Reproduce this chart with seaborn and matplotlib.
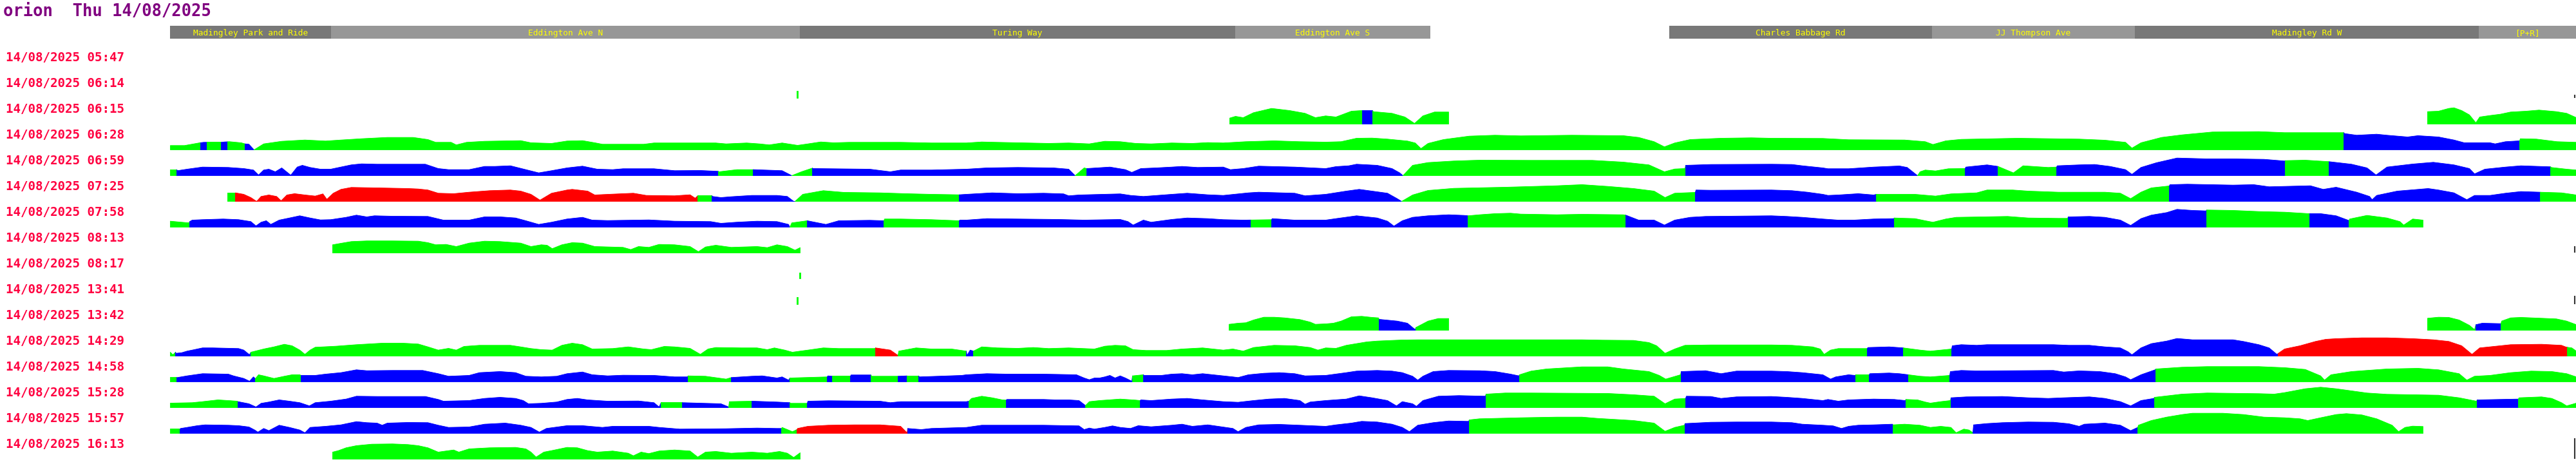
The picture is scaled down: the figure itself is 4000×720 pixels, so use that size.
import numpy as np
import matplotlib
matplotlib.use("Agg")
import matplotlib.pyplot as plt
import seaborn as sns

# ---------------- data ----------------
TITLE = "orion  Thu 14/08/2025"
DATE = "14/08/2025"
times = ["05:47", "06:14", "06:15", "06:28", "06:59", "07:25", "07:58", "08:13",
         "08:17", "13:41", "13:42", "14:29", "14:58", "15:28", "15:57", "16:13"]

stop_names = ["Madingley Park and Ride", "Eddington Ave N", "Turing Way", "Eddington Ave S",
              "Charles Babbage Rd", "JJ Thompson Ave", "Madingley Rd W", "[P+R]"]
stop_start = [0, 250, 978, 1654, 2328, 2736, 3051, 3585]
stop_end = [250, 978, 1654, 1957, 2736, 3051, 3585, 3736]

# profiles: (distance along route, value) ; colours: (from, to, status)
prof_0547 = []
col_0547 = []

prof_0614 = [(973, 11), (975, 11)]
col_0614 = [(973, 975, "G")]

prof_0615 = [(1645, 9.3), (1654, 12), (1666, 10), (1682, 17.7), (1710, 24.3), (1738, 21), (1762, 16.7),
             (1778, 10), (1794, 12.7), (1810, 11), (1834, 20), (1850, 21), (1851, 20.7), (1867, 20.7),
             (1868, 19.3), (1897, 16.7), (1917, 11), (1932, 1), (1945, 12.7), (1963, 18.7), (1985, 18.7),
             (3505, 19.3), (3522, 20), (3538, 24.3), (3546, 25.3), (3558, 21), (3570, 14.3), (3580, 2),
             (3586, 11), (3602, 13.3), (3618, 15.3), (3634, 18.7), (3658, 20), (3678, 21.7), (3705, 19.3),
             (3721, 16.7), (3736, 10)]
col_0615 = [(1645, 1851, "G"), (1851, 1867, "B"), (1867, 1985, "G"), (3505, 3736, "G")]

prof_0628 = [(0, 6.7), (22, 6.7), (46, 11), (52, 11.7), (79, 11.7), (84, 12.3), (92, 12.7), (110, 11),
             (116, 9.3), (122, 8.7), (130, 0), (145, 9.3), (173, 13.3), (209, 15.3), (241, 13.7),
             (265, 15.3), (297, 17.3), (337, 19.3), (377, 19.3), (400, 16), (412, 11.7), (436, 11.7),
             (444, 7.7), (460, 11.7), (488, 13.3), (544, 14.3), (560, 11), (592, 10), (616, 13.7),
             (640, 14.3), (659, 11), (671, 8.7), (735, 8.7), (751, 10.7), (847, 10.7), (863, 9.3),
             (895, 10.7), (915, 9.3), (930, 7.7), (950, 10.7), (974, 7), (990, 9.3), (1010, 12.3),
             (1030, 11), (1054, 11.7), (1134, 11.7), (1182, 10.7), (1236, 10.7), (1260, 12.3),
             (1284, 11.7), (1332, 10.7), (1364, 10), (1395, 10.7), (1427, 9.3), (1451, 13.3),
             (1475, 12.7), (1499, 10), (1523, 9.3), (1555, 10.7), (1587, 10), (1611, 11.3), (1635, 10.7),
             (1670, 12.7), (1714, 14), (1754, 12.7), (1794, 12), (1818, 12.7), (1842, 18), (1866, 18.3),
             (1890, 16.7), (1921, 13.7), (1933, 10.7), (1942, 2), (1953, 10), (1977, 16), (2017, 21.3),
             (2057, 22.7), (2097, 21.7), (2176, 22.7), (2256, 22), (2280, 19.3), (2304, 12.7),
             (2320, 4.7), (2336, 10.7), (2360, 16), (2408, 18), (2455, 18.7), (2486, 18), (2566, 17.7),
             (2606, 15.7), (2693, 15.3), (2725, 12.7), (2737, 8.3), (2757, 14), (2781, 16.3), (2869, 18),
             (2964, 16.7), (3004, 15), (3036, 11.7), (3046, 2.7), (3060, 11), (3092, 19.3), (3124, 23.3),
             (3171, 27.7), (3243, 28.3), (3283, 26.7), (3375, 26.7), (3376, 25.3), (3395, 22.7),
             (3426, 24.3), (3442, 22.7), (3474, 20), (3490, 22), (3522, 20), (3546, 15.3), (3562, 11),
             (3602, 11), (3610, 9.3), (3626, 12.7), (3648, 14), (3649, 17.3), (3674, 16.7), (3706, 12.7),
             (3736, 11.7)]
col_0628 = [(0, 47, "G"), (47, 57, "B"), (57, 79, "G"), (79, 89, "B"), (89, 116, "G"), (116, 130, "B"),
            (130, 3375, "G"), (3375, 3648, "B"), (3648, 3736, "G")]

prof_0659 = [(0, 9.3), (10, 9.3), (11, 7.7), (26, 10), (50, 13.3), (90, 12.7), (114, 11), (129, 8.7),
             (137, 1), (145, 8.7), (153, 10), (163, 6), (173, 12), (187, 0.7), (197, 13.3), (205, 16),
             (217, 12.7), (233, 10), (249, 10), (281, 16.7), (297, 18.3), (321, 17.7), (361, 17.7),
             (396, 17.7), (416, 11), (432, 9.3), (464, 9.3), (488, 14.3), (504, 14.3), (528, 15.3),
             (552, 9.3), (572, 4.3), (592, 7.7), (616, 12), (640, 14.7), (663, 10), (687, 9.3),
             (703, 10.7), (751, 10.7), (783, 7.7), (823, 8), (851, 6.7), (852, 6), (880, 9.3), (905, 9.3),
             (906, 9.3), (950, 7.7), (965, 0), (980, 6), (997, 11.7), (998, 11), (1086, 10), (1118, 6),
             (1134, 8.7), (1182, 8.7), (1236, 10), (1268, 12), (1316, 12.7), (1371, 12), (1395, 10),
             (1405, 0), (1419, 12), (1423, 11), (1459, 13.3), (1483, 9.3), (1493, 5), (1507, 11),
             (1531, 12), (1555, 13.3), (1571, 14.3), (1595, 12.7), (1635, 13.3), (1646, 9.3), (1666, 11),
             (1690, 14.7), (1746, 13.3), (1794, 11), (1810, 14), (1830, 15.3), (1842, 17.7), (1874, 16),
             (1897, 11), (1909, 4.3), (1914, 0), (1929, 16), (1953, 20.3), (1993, 22.7), (2033, 24),
             (2113, 23.7), (2208, 23.7), (2256, 21), (2296, 16.7), (2320, 6), (2336, 10.3), (2352, 11),
             (2353, 16), (2392, 17.3), (2486, 17.7), (2518, 17.3), (2534, 15.3), (2566, 12), (2574, 10.7),
             (2606, 10.7), (2645, 13.3), (2685, 15), (2697, 12.7), (2713, 0), (2717, 6), (2725, 8.7),
             (2741, 7.3), (2761, 10.7), (2787, 11), (2788, 13.3), (2821, 16.7), (2838, 14.3), (2862, 4.3),
             (2877, 15.3), (2892, 14.3), (2916, 12.7), (2929, 13.3), (2930, 15.3), (2964, 16.7),
             (2988, 17.3), (3012, 14.3), (3036, 9.3), (3046, 2), (3060, 12.7), (3084, 20), (3116, 27.3),
             (3163, 26), (3203, 26), (3251, 25.3), (3283, 22.7), (3284, 23.3), (3315, 24), (3352, 21.7),
             (3387, 17.7), (3411, 12), (3425, 1), (3442, 13.3), (3482, 18), (3514, 20.7), (3546, 16.7),
             (3570, 11), (3578, 2.7), (3594, 10), (3626, 13.3), (3650, 15.3), (3696, 13.7), (3697, 12.7),
             (3721, 10), (3736, 8.7)]
col_0659 = [(0, 10, "G"), (10, 851, "B"), (851, 905, "G"), (905, 965, "B"), (965, 997, "G"),
            (997, 1405, "B"), (1405, 1423, "G"), (1423, 1914, "B"), (1914, 2353, "G"), (2353, 2713, "B"),
            (2713, 2787, "G"), (2787, 2838, "B"), (2838, 2929, "G"), (2929, 3284, "B"), (3284, 3352, "G"),
            (3352, 3696, "B"), (3696, 3736, "G")]

prof_0725 = [(89, 13.3), (101, 13.3), (114, 11), (125, 6), (134, 0), (141, 7.7), (153, 10), (165, 7.7),
             (172, 1), (181, 10), (193, 12), (209, 10), (225, 8.3), (237, 11.7), (243, 3.3), (253, 12.7),
             (265, 18.7), (281, 21.7), (321, 21), (369, 20), (385, 19.3), (400, 17.7), (416, 12.7),
             (440, 12), (464, 14.3), (496, 16.7), (528, 17.7), (544, 16), (560, 11), (574, 2), (592, 12.7),
             (616, 17.7), (624, 18.7), (648, 16), (659, 10), (687, 11.3), (719, 12.7), (739, 9.3),
             (783, 8.7), (807, 10.3), (815, 5), (819, 8.7), (841, 8.7), (842, 7.7), (855, 6), (871, 7.3),
             (903, 9.3), (942, 9.3), (958, 7.7), (968, 0), (970, 0), (982, 11), (1014, 16.7), (1046, 14),
             (1102, 13.3), (1142, 12), (1182, 11), (1225, 10.3), (1236, 11), (1276, 13.3), (1316, 12),
             (1356, 12.7), (1387, 11.7), (1395, 8.7), (1411, 10), (1475, 11.7), (1491, 9.3), (1511, 7.7),
             (1555, 11), (1579, 12.7), (1611, 10.3), (1635, 9.3), (1674, 13.3), (1690, 14.3), (1746, 12.7),
             (1762, 8.7), (1794, 11), (1826, 16), (1846, 18.7), (1866, 16), (1890, 12.7), (1905, 4.3),
             (1912, 0), (1929, 10), (1953, 17), (1993, 20.3), (2073, 22), (2153, 24.3), (2192, 26),
             (2232, 23.3), (2272, 20), (2304, 16), (2321, 6), (2336, 12.7), (2368, 14), (2369, 17.7),
             (2392, 17.3), (2486, 17.7), (2518, 16.7), (2542, 14.3), (2566, 11), (2574, 9.3), (2590, 10),
             (2621, 12), (2645, 10), (2649, 11), (2709, 11), (2741, 8.3), (2765, 11.7), (2805, 13.3),
             (2821, 17.7), (2861, 17.7), (2885, 16), (2932, 14.3), (3004, 14.3), (3028, 12.7), (3044, 4.3),
             (3060, 14.3), (3076, 21), (3104, 24), (3105, 26), (3132, 26.7), (3203, 25.3), (3235, 26),
             (3259, 22.7), (3323, 24.3), (3343, 18.7), (3363, 22), (3395, 14.3), (3415, 7.7), (3419, 2.7),
             (3426, 9.3), (3458, 16), (3506, 20), (3522, 17.7), (3546, 13.3), (3566, 2.7), (3578, 9.3),
             (3602, 9.3), (3626, 12.7), (3650, 15.3), (3680, 14.3), (3713, 13.3), (3736, 10)]
col_0725 = [(89, 101, "G"), (101, 819, "R"), (819, 841, "G"), (841, 970, "B"), (970, 1225, "G"),
            (1225, 1912, "B"), (1912, 2368, "G"), (2368, 2649, "B"), (2649, 3104, "G"), (3104, 3680, "B"),
            (3680, 3736, "G")]

prof_0758 = [(0, 9.3), (29, 6.7), (30, 8.7), (34, 11), (50, 11.7), (82, 12.7), (106, 11.7), (125, 8.7),
             (133, 2), (141, 7.7), (149, 10), (156, 4.3), (169, 11), (185, 14.3), (201, 17.7), (217, 14.3),
             (233, 11.3), (249, 11.7), (273, 15.3), (289, 18.7), (305, 16), (317, 17.7), (345, 17),
             (400, 16.7), (424, 11), (464, 11), (488, 16), (512, 16), (536, 14.3), (552, 10), (572, 4.3),
             (592, 7.7), (616, 12.7), (640, 15.3), (655, 11), (679, 10.3), (743, 11.3), (783, 9.3),
             (839, 8.7), (855, 6), (879, 7.7), (911, 9.3), (942, 8.7), (960, 4.3), (962, 0), (965, 6.7),
             (989, 10), (1018, 4.3), (1038, 10), (1086, 10.7), (1108, 10), (1109, 12.7), (1134, 12.7),
             (1182, 11.7), (1225, 10), (1226, 11), (1236, 11), (1268, 13.3), (1316, 12.7), (1379, 12),
             (1419, 11), (1475, 12), (1487, 8.7), (1495, 3.3), (1511, 11), (1523, 7.7), (1555, 12),
             (1579, 14.3), (1611, 13.3), (1635, 11.7), (1666, 11), (1710, 11.7), (1711, 13.3), (1746, 11),
             (1794, 11), (1810, 13.3), (1842, 17.7), (1874, 14.3), (1890, 9.3), (1900, 1.7), (1913, 10),
             (1929, 15.3), (1953, 17.7), (1985, 19.3), (2009, 18.3), (2015, 17.7), (2033, 19.3), (2057, 21),
             (2081, 21.7), (2097, 20.3), (2153, 19.3), (2192, 20), (2256, 19.3), (2260, 18.7), (2280, 11),
             (2304, 11), (2320, 3.3), (2336, 11), (2360, 15.3), (2384, 16.7), (2486, 17.7), (2510, 16.7),
             (2534, 15.3), (2566, 12.7), (2590, 11), (2614, 11), (2645, 12.7), (2676, 13.3), (2677, 14.3),
             (2709, 13.3), (2725, 10), (2737, 7.7), (2757, 12.7), (2773, 15.3), (2853, 16.7), (2885, 14.3),
             (2932, 13.7), (2946, 13.7), (2947, 16), (2980, 16.7), (3004, 15.3), (3028, 11), (3044, 2.7),
             (3060, 13.3), (3076, 18.7), (3100, 22.7), (3116, 27.7), (3140, 26), (3161, 25.3),
             (3162, 26.7), (3203, 26), (3243, 24.3), (3283, 23.3), (3321, 21), (3339, 21), (3363, 17.7),
             (3383, 10.3), (3384, 12.7), (3411, 18.3), (3442, 14.3), (3462, 8.7), (3468, 3.3), (3482, 12.7),
             (3498, 11)]
col_0758 = [(0, 30, "G"), (30, 962, "B"), (962, 989, "G"), (989, 1108, "B"), (1108, 1225, "G"),
            (1225, 1678, "B"), (1678, 1710, "G"), (1710, 2015, "B"), (2015, 2260, "G"), (2260, 2677, "B"),
            (2677, 2947, "G"), (2947, 3162, "B"), (3162, 3322, "G"), (3322, 3383, "B"), (3383, 3498, "G")]

prof_0813 = [(252, 12.7), (265, 15), (281, 17.7), (305, 18.7), (345, 18.7), (385, 18.3), (400, 16),
             (412, 12.7), (428, 13.3), (444, 10), (464, 15.3), (488, 18.3), (512, 17.7), (544, 15.3),
             (560, 10), (576, 12.7), (585, 12), (593, 6.7), (608, 12.7), (624, 16), (640, 15.3), (659, 10),
             (703, 8.7), (715, 5.3), (727, 10), (743, 8.7), (759, 13.3), (783, 12.7), (807, 10), (820, 2),
             (831, 9.3), (847, 12), (871, 8.7), (911, 10), (927, 8.3), (942, 12.7), (958, 10), (970, 4.3),
             (978, 8.3)]
col_0813 = [(252, 978, "G")]

prof_0817 = [(977, 9), (979, 9)]
col_0817 = [(977, 979, "G")]

prof_1341 = [(973, 11), (975, 11)]
col_1341 = [(973, 975, "G")]

prof_1342 = [(1644, 9.3), (1658, 11), (1670, 11.7), (1682, 16), (1698, 20.3), (1714, 20.3), (1730, 19.3),
             (1754, 16.7), (1770, 12.7), (1778, 9.3), (1794, 10), (1806, 11), (1818, 14.3), (1834, 21),
             (1850, 21.7), (1866, 20), (1876, 19.3), (1877, 17), (1905, 14.3), (1921, 11), (1933, 1),
             (1934, 4.3), (1953, 14.3), (1969, 18.3), (1985, 18.3),
             (3505, 18.7), (3522, 20.3), (3538, 20), (3554, 16), (3570, 7.7), (3578, 1), (3580, 8.7),
             (3590, 11), (3619, 10.3), (3620, 14.3), (3634, 19.3), (3650, 20), (3682, 18.7), (3705, 17.7),
             (3721, 14.3), (3736, 8.7)]
col_1342 = [(1644, 1877, "G"), (1877, 1934, "B"), (1934, 1985, "G"), (3505, 3580, "G"), (3580, 3619, "B"),
            (3619, 3736, "G")]

prof_1429 = [(0, 6), (4, 2), (8, 6), (9, 4.3), (18, 5.3), (26, 7.7), (34, 9.3), (50, 12.7), (66, 12.7),
             (106, 11.7), (114, 9.3), (123, 2), (125, 6), (145, 11), (161, 14.3), (177, 18.3), (189, 16),
             (201, 9.3), (209, 2.7), (217, 9.3), (225, 13.7), (257, 15.3), (289, 17.7), (329, 20),
             (361, 20), (385, 18.7), (400, 14.3), (416, 9.3), (432, 12), (444, 9.3), (456, 15), (480, 16.7),
             (528, 16.7), (544, 14.3), (560, 11.7), (576, 10), (593, 9.3), (608, 16.7), (624, 20),
             (640, 17.7), (655, 11), (687, 11.7), (711, 14.3), (735, 11), (747, 10), (767, 15), (783, 14.3),
             (807, 12), (823, 2.7), (835, 11), (847, 13.3), (887, 12.7), (911, 12.7), (927, 10),
             (938, 12.7), (954, 9.3), (966, 6), (978, 7.7), (990, 9.3), (1014, 12.7), (1038, 11.7),
             (1094, 11.7), (1095, 12.7), (1118, 9.3), (1130, 1), (1131, 7.7), (1158, 12.7), (1182, 11),
             (1213, 11), (1236, 7.7), (1237, 1), (1242, 9.3), (1247, 7.7), (1260, 14.3), (1284, 12.7),
             (1316, 12), (1340, 13.3), (1364, 11.7), (1395, 12.7), (1435, 11), (1451, 15.3), (1467, 16.7),
             (1483, 16), (1495, 10), (1515, 8.7), (1547, 8.7), (1571, 11), (1603, 12.7), (1619, 11),
             (1635, 9.3), (1650, 11), (1666, 7.7), (1682, 13.3), (1714, 16.7), (1746, 16), (1770, 13.3),
             (1782, 9.3), (1794, 12.7), (1810, 12), (1826, 16.7), (1858, 22), (1874, 23.3), (1913, 25),
             (1937, 25.3), (2192, 25.3), (2224, 24.7), (2272, 24.3), (2296, 21), (2308, 16), (2321, 4.3),
             (2336, 11), (2352, 16.7), (2392, 17.3), (2486, 17.3), (2518, 16.7), (2550, 14.3), (2562, 11),
             (2568, 2.7), (2578, 9.3), (2590, 11.7), (2635, 11.7), (2636, 13.3), (2669, 14.3),
             (2691, 12.7), (2717, 9.3), (2733, 7.7), (2749, 9.3), (2766, 11), (2767, 16), (2781, 17.7),
             (2805, 16.7), (2821, 17.7), (2924, 17.7), (2948, 16.7), (2980, 16.7), (3004, 14.3),
             (3028, 12.7), (3040, 6.7), (3046, 2), (3060, 12.7), (3076, 19.3), (3100, 23.3), (3116, 27.3),
             (3140, 25.3), (3203, 25.3), (3219, 22.7), (3243, 17.7), (3259, 12.7), (3271, 2.7), (3283, 11),
             (3307, 16), (3331, 22.7), (3347, 26), (3363, 27), (3403, 28.3), (3442, 28.3), (3482, 27),
             (3514, 25.3), (3538, 22.7), (3558, 16), (3574, 2.7), (3586, 12.7), (3618, 16), (3634, 17.7),
             (3682, 18.3), (3713, 16.7), (3720, 14), (3729, 12.7), (3736, 7.7)]
col_1429 = [(0, 8, "G"), (8, 125, "B"), (125, 1095, "G"), (1095, 1130, "R"), (1130, 1236, "G"),
            (1236, 1247, "B"), (1247, 2635, "G"), (2635, 2691, "B"), (2691, 2766, "G"), (2766, 3273, "B"),
            (3273, 3722, "R"), (3722, 3736, "G")]

prof_1458 = [(0, 6.7), (10, 6.7), (11, 6.7), (26, 9.3), (50, 12.7), (90, 12), (98, 9.3), (114, 5.3),
             (123, 1), (129, 7.7), (132, 5), (137, 11), (145, 9.3), (161, 5.3), (177, 8.7), (189, 11),
             (201, 11), (203, 10), (225, 10), (241, 12), (265, 14.3), (289, 18.7), (305, 17.3), (345, 17.7),
             (392, 17.7), (416, 12.7), (432, 8.7), (464, 10), (480, 14.3), (512, 16), (536, 14.3),
             (552, 8.7), (576, 7.7), (600, 8.7), (616, 12.7), (640, 15.3), (655, 11), (679, 9.3),
             (703, 10.3), (751, 10), (783, 7.7), (803, 7.7), (804, 9.3), (831, 8.7), (863, 4.3), (871, 6.7),
             (903, 8.7), (919, 9.3), (942, 6), (950, 7.7), (960, 2.7), (962, 6), (1020, 7.7), (1021, 9.3),
             (1028, 8.7), (1056, 8.7), (1057, 10.7), (1088, 10.7), (1089, 8.7), (1130, 8.7), (1144, 9.3),
             (1162, 9.3), (1163, 7.7), (1229, 10), (1236, 11), (1268, 12.7), (1300, 12), (1356, 12),
             (1407, 11), (1419, 6), (1427, 3.3), (1435, 6), (1443, 6), (1451, 7.7), (1459, 10), (1467, 6),
             (1475, 9.3), (1483, 6), (1493, 1), (1494, 9.3), (1511, 11), (1512, 10), (1539, 10), (1555, 12),
             (1571, 12.7), (1587, 11), (1603, 12.7), (1635, 9.3), (1650, 7.7), (1658, 6.7), (1674, 11),
             (1698, 13.3), (1722, 14.3), (1746, 12.7), (1762, 9.3), (1794, 10), (1826, 14.3), (1842, 16.7),
             (1874, 17.7), (1897, 16.7), (1913, 14.3), (1929, 8.7), (1937, 2.7), (1945, 8.7), (1961, 16),
             (1985, 17.7), (2033, 17.3), (2057, 16), (2081, 12), (2094, 9.3), (2095, 11), (2113, 16.7),
             (2137, 20), (2192, 23.3), (2232, 23.3), (2256, 20), (2296, 16), (2312, 10), (2322, 4.3),
             (2345, 11), (2346, 16), (2384, 17.3), (2408, 12.7), (2432, 16.7), (2486, 16.7), (2510, 16),
             (2534, 14.3), (2566, 11), (2578, 4.3), (2586, 7.7), (2606, 11), (2616, 10), (2617, 11),
             (2638, 11), (2639, 12.7), (2669, 13.7), (2685, 12.7), (2699, 11), (2717, 8.7), (2733, 7.7),
             (2763, 10), (2764, 16), (2781, 17.7), (2805, 17), (2924, 17.7), (2940, 15.3), (2964, 17),
             (2996, 16), (3020, 12.7), (3036, 7.7), (3044, 3.3), (3060, 11), (3082, 18.7), (3083, 20),
             (3124, 22.7), (3163, 23.7), (3243, 23.7), (3283, 22), (3315, 19.3), (3339, 9.3), (3345, 2.7),
             (3355, 11), (3387, 16), (3442, 20), (3490, 21), (3522, 18.7), (3554, 12.7), (3566, 2.7),
             (3578, 8.7), (3602, 10), (3634, 14.3), (3666, 16.7), (3698, 16), (3721, 12.7), (3736, 7.7)]
col_1458 = [(0, 10, "G"), (10, 132, "B"), (132, 203, "G"), (203, 804, "B"), (804, 871, "G"),
            (871, 962, "B"), (962, 1020, "G"), (1020, 1028, "B"), (1028, 1056, "G"), (1056, 1088, "B"),
            (1088, 1130, "G"), (1130, 1144, "B"), (1144, 1162, "G"), (1162, 1494, "B"), (1494, 1511, "G"),
            (1511, 2095, "B"), (2095, 2346, "G"), (2346, 2617, "B"), (2617, 2638, "G"), (2638, 2699, "B"),
            (2699, 2763, "G"), (2763, 3083, "B"), (3083, 3736, "G")]

prof_1528 = [(0, 7), (34, 7.7), (50, 9.3), (74, 12), (90, 11), (104, 10), (105, 9.3), (122, 6), (133, 1),
             (141, 6.7), (153, 8.7), (169, 12), (185, 10), (201, 7.7), (216, 2.7), (225, 7.7), (249, 10),
             (273, 13.3), (289, 17.7), (321, 17.3), (396, 17.3), (416, 12.7), (424, 10), (464, 11),
             (488, 14.3), (512, 16), (536, 14.3), (548, 11), (556, 6), (576, 6.7), (600, 8.7), (616, 12.7),
             (632, 14.3), (648, 12), (679, 10), (727, 10.3), (751, 7.7), (759, 1), (762, 7.7), (783, 7.7),
             (795, 7.7), (796, 7.7), (855, 6), (867, 1), (868, 9.3), (903, 10), (904, 10), (942, 8.7),
             (962, 7.7), (963, 6.7), (989, 6.7), (990, 10), (1022, 10.7), (1102, 10), (1118, 7.7),
             (1134, 9.3), (1236, 9.3), (1240, 10), (1244, 14.3), (1260, 17.7), (1276, 15.3), (1292, 12),
             (1298, 11.7), (1299, 12.7), (1356, 12.7), (1375, 12), (1395, 12), (1411, 11), (1421, 3.3),
             (1427, 9.3), (1443, 11), (1475, 13.3), (1499, 11.7), (1506, 11), (1507, 12), (1523, 11),
             (1555, 13.3), (1579, 14.3), (1603, 12), (1635, 9.3), (1658, 8.3), (1682, 11), (1706, 13.3),
             (1730, 14.3), (1754, 11), (1762, 5.3), (1770, 8.7), (1794, 11), (1826, 13.3), (1846, 18.3),
             (1866, 15.3), (1890, 11), (1904, 2.7), (1913, 9.3), (1929, 6), (1935, 2), (1945, 11),
             (1969, 17.7), (2001, 18.7), (2042, 17.7), (2043, 21), (2073, 22.7), (2113, 22.7), (2232, 22),
             (2272, 20), (2304, 17.7), (2321, 6), (2336, 13.3), (2353, 14.3), (2354, 17.7), (2392, 17.3),
             (2408, 14.3), (2432, 16.7), (2486, 17.3), (2510, 16), (2534, 14.3), (2566, 11), (2574, 12.7),
             (2590, 10), (2606, 12), (2645, 13.3), (2677, 12.7), (2694, 11), (2695, 12.7), (2713, 12),
             (2725, 8.7), (2733, 7), (2749, 9.3), (2764, 11), (2765, 15.3), (2789, 16.7), (2845, 17.3),
             (2885, 15.3), (2916, 14.3), (2940, 15.3), (2980, 16.7), (3004, 14.3), (3028, 9.3), (3044, 2.7),
             (3060, 11), (3080, 14.3), (3081, 16), (3124, 21), (3163, 22.7), (3243, 21.7), (3267, 21),
             (3283, 23.3), (3315, 29.3), (3339, 31.7), (3363, 29.3), (3411, 22.7), (3442, 20.7),
             (3522, 19.3), (3554, 15.3), (3581, 10), (3582, 12), (3646, 13.3), (3647, 15.3), (3682, 16.7),
             (3698, 14.3), (3713, 7.7), (3721, 2.7), (3736, 7)]
col_1528 = [(0, 105, "G"), (105, 762, "B"), (762, 795, "G"), (795, 867, "B"), (867, 903, "G"),
            (903, 962, "B"), (962, 989, "G"), (989, 1240, "B"), (1240, 1298, "G"), (1298, 1421, "B"),
            (1421, 1506, "G"), (1506, 2043, "B"), (2043, 2353, "G"), (2353, 2695, "B"), (2695, 2765, "G"),
            (2765, 3081, "B"), (3081, 3582, "G"), (3582, 3646, "B"), (3646, 3736, "G")]

prof_1557 = [(0, 6.7), (15, 6.7), (16, 7.7), (26, 9.3), (42, 12), (54, 13.3), (90, 12.7), (106, 12),
             (122, 10), (131, 5.3), (136, 2), (145, 7.7), (153, 4.3), (169, 12.7), (185, 9.3), (201, 5.3),
             (209, 1), (217, 9.3), (241, 11), (265, 13.3), (289, 18.3), (305, 16.7), (321, 16), (329, 12.7),
             (337, 16), (369, 17), (400, 16.7), (416, 12.7), (432, 9.3), (464, 10), (488, 14.3), (520, 16),
             (544, 12.7), (560, 9.3), (573, 2), (584, 7.7), (616, 12), (640, 12), (671, 9.3), (687, 11),
             (743, 11), (759, 9.3), (791, 6.7), (863, 7.3), (911, 8.3), (942, 7.7), (949, 7.7), (950, 9.3),
             (966, 2.7), (973, 6), (974, 7.7), (990, 11), (1022, 12.7), (1062, 13.3), (1102, 13.3),
             (1134, 11), (1144, 1), (1145, 7.7), (1166, 6), (1182, 7.7), (1236, 9.3), (1260, 12.7),
             (1356, 12.7), (1411, 11.7), (1419, 6), (1427, 8.3), (1435, 6.7), (1451, 9.3), (1463, 11.7),
             (1475, 9.3), (1491, 7.7), (1503, 12), (1523, 10.3), (1555, 12.7), (1571, 14.3), (1587, 11),
             (1611, 13.3), (1627, 11), (1650, 7.7), (1658, 2.7), (1670, 9.3), (1690, 13.3), (1722, 14),
             (1754, 12.7), (1794, 11), (1810, 13.3), (1834, 16), (1850, 18.7), (1874, 17.7), (1897, 14.3),
             (1913, 9.3), (1924, 2.7), (1937, 12.7), (1961, 16.7), (1985, 19.3), (2016, 18.7), (2017, 21),
             (2033, 22.7), (2057, 23.3), (2097, 24.3), (2153, 25.3), (2192, 25.3), (2216, 23.3), (2272, 20),
             (2304, 16), (2321, 3.3), (2336, 9.3), (2351, 12.7), (2352, 15.3), (2392, 17.3), (2432, 17.7),
             (2486, 17.7), (2518, 16.7), (2534, 14.3), (2566, 12.7), (2582, 11.7), (2595, 7.7), (2606, 11),
             (2621, 12.7), (2645, 13.3), (2674, 14.3), (2675, 13.3), (2693, 14.3), (2717, 12.7),
             (2733, 9.3), (2749, 11), (2765, 9.3), (2773, 1), (2785, 6.7), (2793, 5.3), (2799, 1),
             (2800, 13.3), (2821, 15.3), (2845, 16.7), (2885, 17.7), (2924, 17.3), (2948, 15), (2964, 11),
             (2972, 14.3), (3004, 16), (3028, 12.7), (3044, 4.3), (3055, 9.3), (3056, 12.7), (3076, 20),
             (3100, 25.3), (3124, 29.3), (3140, 31.3), (3187, 31.3), (3219, 29.3), (3251, 25.3),
             (3283, 24.3), (3307, 22.7), (3319, 20), (3339, 24.3), (3363, 29.3), (3379, 30.7), (3403, 28.7),
             (3426, 22.7), (3450, 12.7), (3460, 2.7), (3470, 9.3), (3482, 11.3), (3498, 10.7)]
col_1557 = [(0, 15, "G"), (15, 949, "B"), (949, 973, "G"), (973, 1145, "R"), (1145, 2017, "B"),
            (2017, 2352, "G"), (2352, 2675, "B"), (2675, 2799, "G"), (2799, 3055, "B"), (3055, 3498, "G")]

prof_1613 = [(252, 11), (261, 13.3), (273, 17.7), (289, 21), (313, 23.3), (345, 23.7), (369, 22.7),
             (385, 21), (400, 17.7), (416, 11), (428, 12.7), (440, 14.3), (448, 11), (464, 16), (496, 17.7),
             (536, 18.3), (552, 16), (560, 11), (568, 3.3), (580, 11), (592, 13.3), (616, 18.3), (632, 17.7),
             (648, 13.3), (663, 11), (687, 12.7), (711, 9.3), (719, 5.3), (731, 11), (743, 8.7), (759, 12.7),
             (783, 14.3), (807, 12.7), (819, 3.3), (831, 11), (847, 12), (871, 9.3), (903, 11), (927, 9.3),
             (946, 12), (958, 9.3), (968, 2.7), (978, 10)]
col_1613 = [(252, 978, "G")]

# small dark marks at the far right end (row, value)
edge_rows = [1, 7, 9, 15]
edge_vals = [5, 10, 13, 32]

# ---------------- style ----------------
PALETTE = {"G": "#00ff00", "B": "#0000ff", "R": "#ff0000"}
HEADER_COLS = ["#787878", "#979797"]
ROW_PX = 40.0          # value units per row height
LABEL_COLOR = "#ff0040"
TITLE_COLOR = "#800080"

sns.set_theme(style="white")
plt.rcParams["font.family"] = ["DejaVu Sans Mono", "DejaVu Sans"]

fig = plt.figure(figsize=(40, 7.2), dpi=100)
fig.patch.set_facecolor("white")
ax = fig.add_axes([0, 0, 1, 1])
ax.set_xlim(-264, 3736)
ax.set_ylim(15.2, -2.8)
ax.axis("off")

profiles = [prof_0547, prof_0614, prof_0615, prof_0628, prof_0659, prof_0725, prof_0758, prof_0813,
            prof_0817, prof_1341, prof_1342, prof_1429, prof_1458, prof_1528, prof_1557, prof_1613]
colours = [col_0547, col_0614, col_0615, col_0628, col_0659, col_0725, col_0758, col_0813,
           col_0817, col_1341, col_1342, col_1429, col_1458, col_1528, col_1557, col_1613]

for i, (prof, cols) in enumerate(zip(profiles, colours)):
    if prof:
        d = np.array([p[0] for p in prof], float)
        h = np.array([p[1] for p in prof], float)
        for a, b, c in cols:
            inner = d[(d > a) & (d < b)]
            xs = np.concatenate([[a], inner, [b]])
            hs = np.interp(xs, d, h)
            ax.fill_between(xs, i, i - hs / ROW_PX, facecolor=PALETTE[c],
                            edgecolor=PALETTE[c], linewidth=0.6)
    ax.text(-255, i - 0.425, f"{DATE} {times[i]}", ha="left", va="baseline",
            color=LABEL_COLOR, fontsize=13.8, fontweight="bold")

for r, v in zip(edge_rows, edge_vals):
    ax.vlines(3734, r, r - v / ROW_PX, color="#333333", linewidth=1.5)

# header of route sections
starts = np.array(stop_start, float)
ends = np.array(stop_end, float)
ax.barh(y=-1.55, width=ends - starts, left=starts, height=0.5,
        color=[HEADER_COLS[k % 2] for k in range(len(starts))], linewidth=0)
for name, s, e in zip(stop_names, starts, ends):
    ax.text((s + e) / 2, -1.425, name, ha="center", va="baseline", color="#ffff00",
            fontsize=9.3)

fig.text(5 / 4000, 1 - 25 / 720, TITLE, ha="left", va="baseline", color=TITLE_COLOR,
         fontsize=18.4, fontweight="bold")

fig.savefig("out.png", dpi=100, facecolor="white")
